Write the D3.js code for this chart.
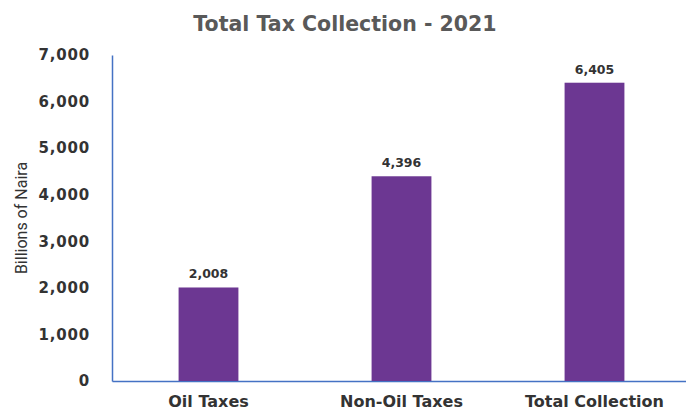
<!DOCTYPE html>
<html>
<head>
<meta charset="utf-8">
<script src="https://cdn.jsdelivr.net/npm/d3@7"></script>
<style>
  html, body { margin: 0; padding: 0; background: #fff; }
  svg { display: block; }
</style>
</head>
<body>
<div id="chart"></div>
<script>
// Nigeria tax collection 2021, billions of naira
const categories = ["Oil Taxes", "Non-Oil Taxes", "Total Collection"];
const values = [2008, 4396, 6405];
const yTicks = [0, 1000, 2000, 3000, 4000, 5000, 6000, 7000];

const width = 686, height = 410;
const margin = { top: 55, right: -5, bottom: 29, left: 112 };

const svg = d3.select("#chart").append("svg")
  .attr("width", width).attr("height", height);

const x = d3.scaleBand()
  .domain(categories)
  .range([margin.left, width - margin.right])
  .paddingInner(0.69).paddingOuter(0.345);

const y = d3.scaleLinear()
  .domain([0, 7000])
  .range([height - margin.bottom, margin.top]);

const fmt = d3.format(",");
const boldFont = "'DejaVu Sans', Verdana, sans-serif";

// title
svg.append("text")
  .attr("x", 345).attr("y", 31)
  .attr("text-anchor", "middle")
  .attr("font-family", boldFont)
  .attr("font-weight", "bold")
  .attr("font-size", 20.5)
  .attr("fill", "#595959")
  .text("Total Tax Collection - 2021");

// y axis labels
const yAxis = svg.append("g")
  .attr("transform", `translate(${margin.left},0)`)
  .call(d3.axisLeft(y).tickValues(yTicks).tickFormat(fmt).tickSize(0).tickPadding(22));
yAxis.select(".domain").attr("stroke", "#4472C4").attr("stroke-width", 1.5);
yAxis.selectAll("text")
  .attr("font-family", boldFont)
  .attr("font-weight", "bold")
  .attr("font-size", 15)
  .attr("letter-spacing", 0.8)
  .attr("fill", "#333");

// x axis
const xAxis = svg.append("g")
  .attr("transform", `translate(0,${y(0)})`)
  .call(d3.axisBottom(x).tickSize(0).tickPadding(15));
xAxis.select(".domain").attr("stroke", "#4472C4").attr("stroke-width", 1.5);
xAxis.selectAll("text")
  .attr("font-family", boldFont)
  .attr("font-weight", "bold")
  .attr("font-size", 16)
  .attr("fill", "#333");

// bars
svg.append("g").selectAll("rect")
  .data(values)
  .join("rect")
  .attr("x", (d, i) => x(categories[i]))
  .attr("y", d => y(d))
  .attr("width", x.bandwidth())
  .attr("height", d => y(0) - y(d))
  .attr("fill", "#6C3792");

// value labels
svg.append("g").selectAll("text")
  .data(values)
  .join("text")
  .attr("x", (d, i) => x(categories[i]) + x.bandwidth() / 2)
  .attr("y", d => y(d) - 9)
  .attr("text-anchor", "middle")
  .attr("font-family", boldFont)
  .attr("font-weight", "bold")
  .attr("font-size", 12.5)
  .attr("fill", "#333")
  .text(d => fmt(d));

// y axis title
svg.append("text")
  .attr("transform", `translate(27,${(y(0) + y(7000)) / 2}) rotate(-90)`)
  .attr("text-anchor", "middle")
  .attr("font-family", "'Liberation Sans Narrow', 'Roboto', sans-serif")
  .attr("font-size", 16)
  .attr("fill", "#333")
  .text("Billions of Naira");
</script>
</body>
</html>
